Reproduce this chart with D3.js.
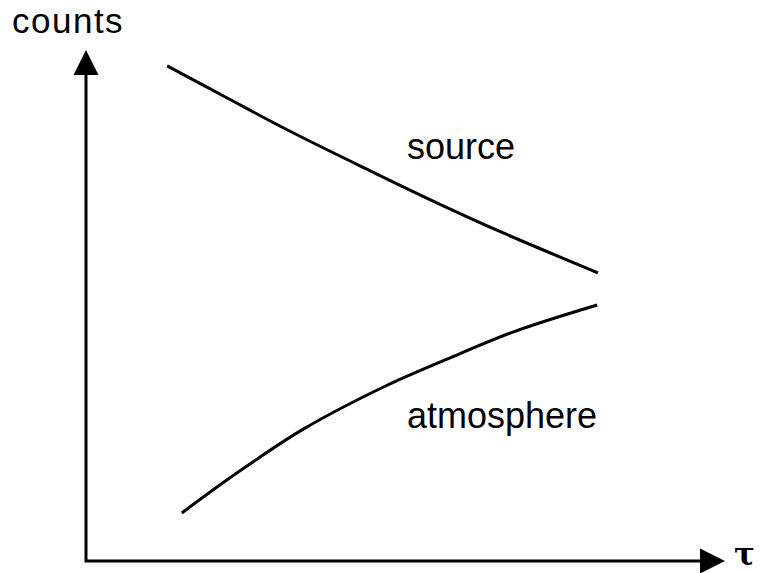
<!DOCTYPE html>
<html>
<head>
<meta charset="utf-8">
<script src="https://cdn.jsdelivr.net/npm/d3@7"></script>
<style>
  html, body { margin: 0; padding: 0; background: #fff; }
  svg { display: block; }
  text { font-family: "Liberation Sans", Arial, sans-serif; fill: #000; }
</style>
</head>
<body>
<div class="div-chart"></div>
<script>
// tau (arbitrary units) and counts for the two curves
const sourceTau = [1.27, 2.21, 3.24, 4.49, 5.49, 6.53, 8.01];
const sourceCounts = [9.69, 9.06, 8.38, 7.61, 7.01, 6.42, 5.64];
const atmosTau = [1.50, 2.36, 3.40, 4.68, 5.65, 6.68, 8.00];
const atmosCounts = [0.94, 1.72, 2.58, 3.42, 3.95, 4.48, 5.01];

const width = 767, height = 573;

const svg = d3.select('.div-chart')
    .append('svg')
    .attr('width', width)
    .attr('height', height);

// axis scales: origin at bottom-left, axes run to the arrow tips
const xScale = d3.scaleLinear().domain([0, 10]).range([86, 725]);
const yScale = d3.scaleLinear().domain([0, 10]).range([561, 50]);

const line = d3.line()
    .x(d => xScale(d[0]))
    .y(d => yScale(d[1]))
    .curve(d3.curveCatmullRom.alpha(0.5));

const source = sourceTau.map((t, i) => [t, sourceCounts[i]]);
const atmos = atmosTau.map((t, i) => [t, atmosCounts[i]]);

// axes
const x0 = xScale(0), y0 = yScale(0);
const arrow = 24, half = 12.5;

svg.append('path')
    .attr('d', `M${x0},${yScale(10) + arrow} L${x0},${y0} L${xScale(10) - arrow},${y0}`)
    .attr('fill', 'none')
    .attr('stroke', '#000')
    .attr('stroke-width', 3);

// arrow heads
svg.append('path')
    .attr('d', `M${x0},${yScale(10)} L${x0 - half},${yScale(10) + arrow + 1} L${x0 + half},${yScale(10) + arrow + 1} Z`)
    .attr('fill', '#000');

svg.append('path')
    .attr('d', `M${xScale(10)},${y0} L${xScale(10) - arrow - 1},${y0 - half} L${xScale(10) - arrow - 1},${y0 + half} Z`)
    .attr('fill', '#000');

// curves
[source, atmos].forEach(s => {
    svg.append('path')
        .datum(s)
        .attr('d', line)
        .attr('fill', 'none')
        .attr('stroke', '#000')
        .attr('stroke-width', 3);
});

// labels
svg.append('text')
    .attr('x', 12).attr('y', 33)
    .attr('font-size', 35)
    .attr('letter-spacing', 1.5)
    .text('counts');

svg.append('text')
    .attr('x', 407).attr('y', 159)
    .attr('font-size', 36)
    .text('source');

svg.append('text')
    .attr('x', 407).attr('y', 428)
    .attr('font-size', 36)
    .text('atmosphere');

svg.append('text')
    .attr('x', 734).attr('y', 565)
    .attr('font-size', 31)
    .attr('font-weight', 'bold')
    .style('font-family', '"DejaVu Serif", "Liberation Serif", serif')
    .text('τ');
</script>
</body>
</html>
